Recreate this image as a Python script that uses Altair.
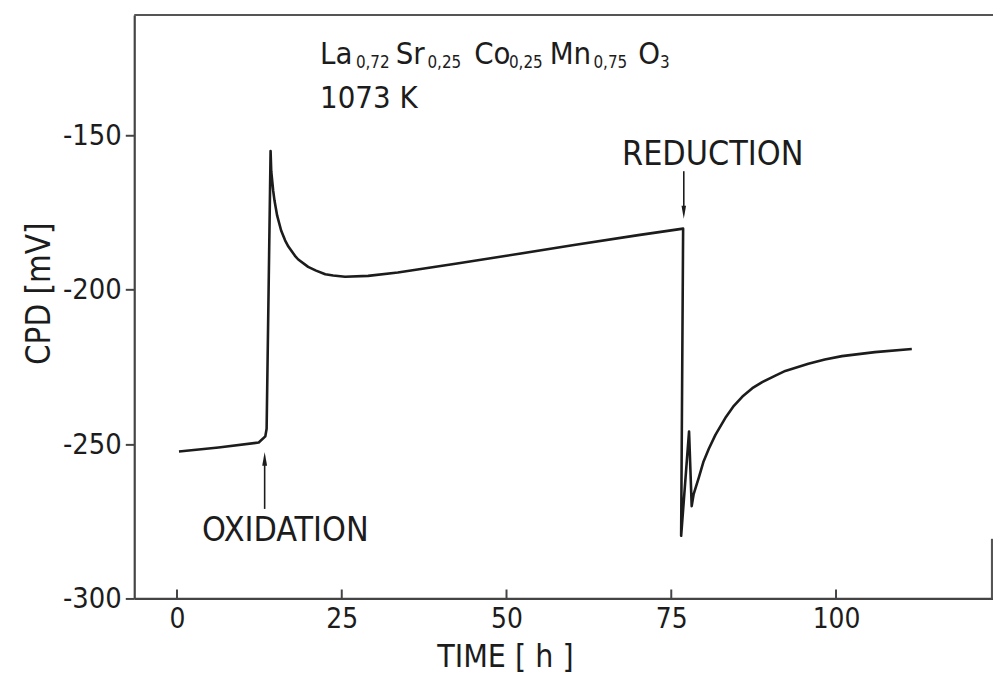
import altair as alt
import pandas as pd

# ---- data ----
time_h = [0.3, 6.3, 12.4, 13.4, 13.6, 14.2, 14.3, 14.6, 14.8, 15.2, 15.8, 16.4,
          16.9, 17.9, 18.4, 19.9, 21.1, 22.5, 23.7, 25.5, 29.0, 33.5, 38.5, 42.5,
          50.0, 60.0, 70.0, 76.8, 76.5, 77.7, 78.1, 78.4, 79.2, 79.9, 80.7, 81.7,
          83.3, 84.5, 85.8, 87.3, 88.8, 90.8, 92.3, 95.8, 98.3, 100.9, 105.9, 111.5]
cpd_mv = [-252.4, -251.1, -249.5, -247.5, -245.0, -155.1, -161.6, -168.0, -171.2,
          -176.0, -180.8, -184.0, -186.0, -189.0, -190.2, -192.6, -193.8, -195.0,
          -195.4, -195.8, -195.5, -194.4, -192.8, -191.5, -189.0, -185.6, -182.3,
          -180.2, -279.7, -245.9, -270.1, -266.2, -260.7, -255.6, -251.5, -247.0,
          -241.2, -237.6, -234.6, -231.9, -229.9, -227.8, -226.3, -224.0, -222.6,
          -221.5, -220.2, -219.2]
x_ticks = [0, 25, 50, 75, 100]
y_ticks = [-300, -250, -200, -150]

# formula pieces: (text, is_subscript)
formula = [("La", False), ("0,72", True), ("Sr", False), ("0,25", True),
           ("Co", False), ("0,25", True), ("Mn", False), ("0,75", True),
           ("O", False), ("3", True)]
formula_x = [187, 223, 263, 295, 342, 377, 418, 462, 507, 529]
temperature = "1073 K"
ox_label, red_label = "OXIDATION", "REDUCTION"
ox_time, red_time = 13.3, 76.9

FONT = "DejaVu Sans Condensed, Liberation Sans Narrow, DejaVu Sans, sans-serif"
INK = "#1c1c1c"
W, H = 864, 587
XDOM = [-6.49, 123.82]
YDOM = [-300, -111.0]

df = pd.DataFrame({"t": time_h, "v": cpd_mv, "i": list(range(len(time_h)))})

xs = alt.Scale(domain=XDOM, nice=False, zero=False)
ys = alt.Scale(domain=YDOM, nice=False, zero=False)

line = alt.Chart(df).mark_line(color=INK, strokeWidth=2.6, strokeJoin="round").encode(
    x=alt.X("t:Q", scale=xs, axis=alt.Axis(
        values=x_ticks, ticks=False, tickSize=0, grid=False, labelPadding=7,
        labelFont=FONT, labelFontSize=28, labelColor=INK, labelExpr="'' + datum.value",
        domainColor="#444", domainWidth=2.2,
        title="TIME [ h ]", titleFont=FONT, titleFontSize=32, titleFontWeight="normal",
        titleColor=INK, titleX=373, titleY=68, titleBaseline="alphabetic",
        titleAnchor="middle", titleAlign="center")),
    y=alt.Y("v:Q", scale=ys, axis=alt.Axis(
        values=y_ticks, tickSize=9, tickWidth=2, tickColor="#444", grid=False,
        labelPadding=4, labelFont=FONT, labelFontSize=29, labelColor=INK,
        labelExpr="'' + datum.value", domainColor="#444", domainWidth=2.2,
        title="CPD [mV]", titleFont=FONT, titleFontSize=33, titleFontWeight="normal",
        titleColor=INK, titleX=-85, titleY=280, titleAngle=-90,
        titleBaseline="alphabetic", titleAlign="center")),
    order="i:Q",
)

tick_df = pd.DataFrame({"t": x_ticks})
inner_ticks = alt.Chart(tick_df).mark_rule(color="#444", strokeWidth=2).encode(
    x=alt.X("t:Q", scale=xs), y=alt.value(H), y2=alt.value(H - 9))

one = alt.Data(values=[{}])
top_border = alt.Chart(one).mark_rule(color="#555", strokeWidth=2.2).encode(
    x=alt.value(0), x2=alt.value(W), y=alt.value(0))
right_border = alt.Chart(one).mark_rule(color="#555", strokeWidth=2.2).encode(
    x=alt.value(W - 1), y=alt.value(H - 60), y2=alt.value(H))


def txt(s, x, y, size, align="left"):
    return alt.Chart(one).mark_text(
        text=s, font=FONT, fontSize=size, color=INK, align=align,
        baseline="alphabetic").encode(x=alt.value(x), y=alt.value(y))


texts = []
for (s, sub), x in zip(formula, formula_x):
    texts.append(txt(s, x, 53 if sub else 49, 17 if sub else 31))
texts.append(txt(temperature, 187, 94, 31))
texts.append(txt(ox_label, 152, 529, 34, "center"))
texts.append(txt(red_label, 582, 151, 34, "center"))

# arrows (shafts and heads) in data coordinates
arrow_df = pd.DataFrame({"t": [ox_time, red_time], "a": [-271.0, -161.6],
                         "b": [-256.5, -173.0]})
shafts = alt.Chart(arrow_df).mark_rule(color=INK, strokeWidth=1.6).encode(
    x=alt.X("t:Q", scale=xs), y=alt.Y("a:Q", scale=ys), y2="b:Q")
head_df = pd.DataFrame({"t": [ox_time, red_time], "v": [-254.8, -174.9],
                        "d": ["up", "down"]})
head_up = alt.Chart(head_df).transform_filter("datum.d == 'up'").mark_point(
    shape="M-0.35,1L0,-1L0.35,1Z", size=196, filled=True, color=INK, opacity=1).encode(
    x=alt.X("t:Q", scale=xs), y=alt.Y("v:Q", scale=ys))
head_down = alt.Chart(head_df).transform_filter("datum.d == 'down'").mark_point(
    shape="M-0.35,-1L0,1L0.35,-1Z", size=169, filled=True, color=INK, opacity=1).encode(
    x=alt.X("t:Q", scale=xs), y=alt.Y("v:Q", scale=ys))

chart = alt.layer(line, inner_ticks, top_border, right_border, shafts, head_up,
                  head_down, *texts).properties(
    width=W, height=H,
    padding={"left": 127, "top": 5, "right": 0, "bottom": 78},
    autosize=alt.AutoSizeParams(type="none"),
).configure_view(stroke=None).configure(background="white")

chart.save("out.html", embed_options={"renderer": "svg", "actions": False})
